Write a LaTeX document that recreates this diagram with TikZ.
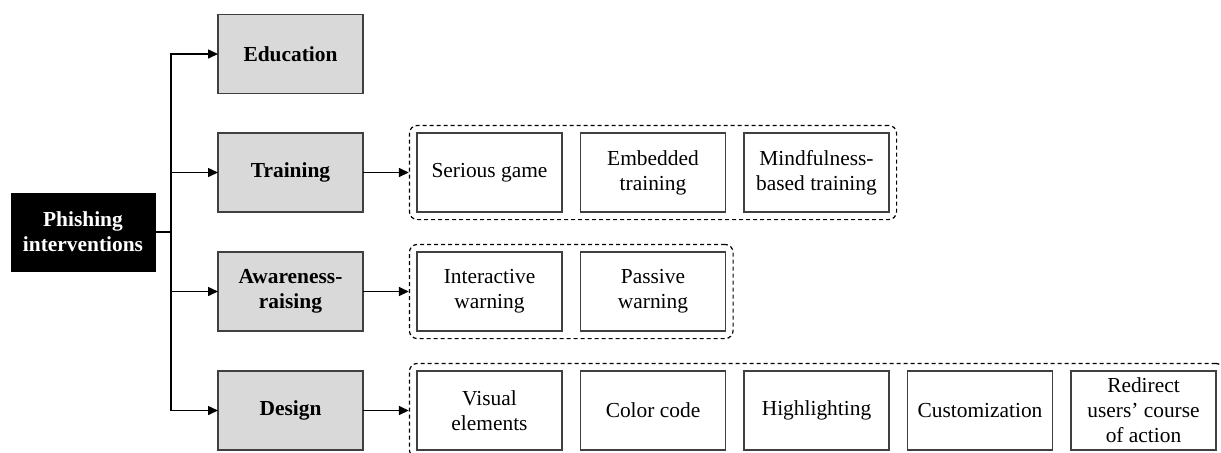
\documentclass[tikz,border=0pt]{standalone}
\usepackage{fontspec}
\setmainfont{Liberation Serif}
\usetikzlibrary{arrows.meta,positioning,fit}
\definecolor{boxgray}{HTML}{D9D9D9}
\definecolor{edgegray}{HTML}{404040}
\tikzset{
	base/.style={minimum width=72.5pt, minimum height=39.5pt, align=center, inner sep=2pt, outer sep=0pt, font=\fontsize{10.7}{12.5}\selectfont},
	rootbox/.style={base, fill=black, text=white, font=\fontsize{10.7}{12.5}\selectfont\bfseries},
	catbox/.style={base, draw=edgegray, line width=0.7pt, fill=boxgray, font=\fontsize{10.7}{12.5}\selectfont\bfseries},
	itembox/.style={base, draw=edgegray, line width=0.7pt, solid, sharp corners},
	groupbox/.style={draw, dash pattern=on 2pt off 1.5pt, rounded corners=4pt, inner sep=3.8pt, line width=0.6pt},
	link/.style={-{Triangle[length=5pt,width=4.5pt]}, line width=0.75pt}
}
\begin{document}
\begin{tikzpicture}[x=0.5pt, y=-0.5pt, node distance=9.25pt]
			\useasboundingbox (0,0) rectangle (1221,452);
			\node[rootbox] (phish) at (83,232) {Phishing\\interventions};
			\node[catbox] (edu) at (290.5,54) {Education};
			\node[catbox] (train) at (290.5,172.5) {Training};
			\node[catbox] (aware) at (290.5,291.5) {Awareness-\\raising};
			\node[catbox] (design) at (290.5,410.5) {Design};
			\coordinate (j) at (171,232);

			\node[itembox] (game) at (489.5,172.5) {Serious game};
			\node[itembox, right=of game] (embed) {Embedded\\training};
			\node[itembox, right=of embed] (mind) {Mindfulness-\\based training};
			\node[groupbox, fit=(game)(embed)(mind)] (trgroup) {};

			\node[itembox] (interact) at (489.5,291.5) {Interactive\\warning};
			\node[itembox, right=of interact] (passive) {Passive\\warning};
			\node[groupbox, fit=(interact)(passive)] (awgroup) {};

			\node[itembox] (visual) at (489.5,410.5) {Visual\\elements};
			\node[itembox, right=of visual] (color) {Color code};
			\node[itembox, right=of color] (highlight) {Highlighting};
			\node[itembox, right=of highlight] (custom) {Customization};
			\node[itembox, right=of custom] (redirect) {Redirect\\users’ course\\of action};
			\node[groupbox, fit=(visual)(color)(highlight)(custom)(redirect)] (degroup) {};

			\draw[line width=0.75pt] (phish) -- (j);
			\foreach \n in {edu,train,aware,design}
				\draw[link] (j) |- (\n);
			\path[link]
			(train) edge (trgroup)
			(aware) edge (awgroup)
			(design) edge (degroup);
		\end{tikzpicture}
\end{document}
